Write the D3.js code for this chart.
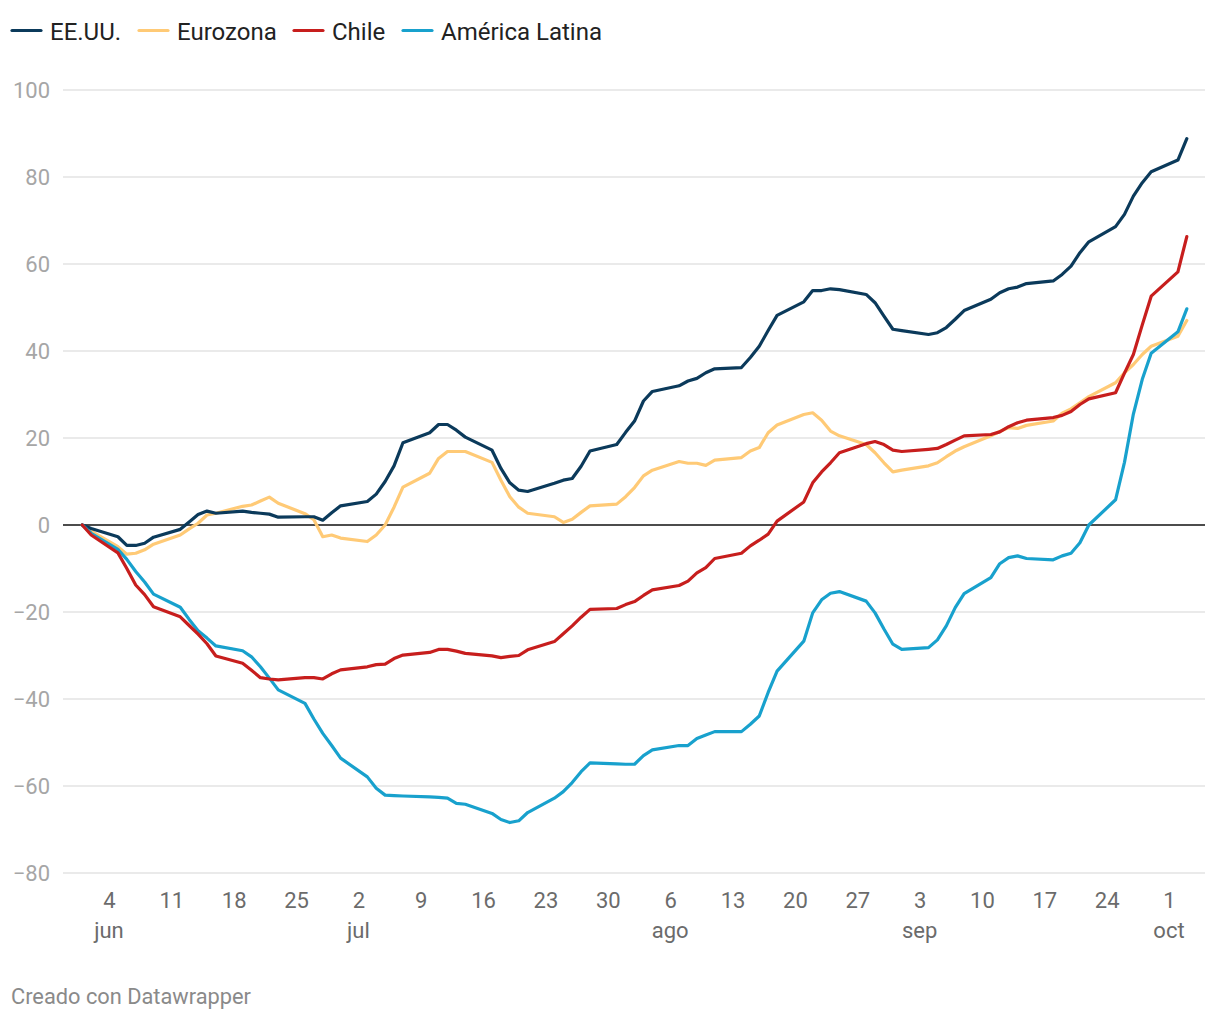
<!DOCTYPE html>
<html>
<head>
<meta charset="utf-8">
<script src="https://cdn.jsdelivr.net/npm/d3@7"></script>
<style>
  html, body { margin: 0; padding: 0; background: #fff; }
  body { width: 1220px; height: 1020px; overflow: hidden; font-family: Roboto, "Noto Sans", sans-serif; }
  svg text { font-family: Roboto, "Noto Sans", sans-serif; }
</style>
</head>
<body>
<svg id="chart" width="1220" height="1020"></svg>
<script>
// ---- Data (trading days, 2023) ----
const dates = [
  "2023-06-01","2023-06-02","2023-06-05","2023-06-06","2023-06-07","2023-06-08","2023-06-09",
  "2023-06-12","2023-06-13","2023-06-14","2023-06-15","2023-06-16",
  "2023-06-19","2023-06-20","2023-06-21","2023-06-22","2023-06-23",
  "2023-06-26","2023-06-27","2023-06-28","2023-06-29","2023-06-30",
  "2023-07-03","2023-07-04","2023-07-05","2023-07-06","2023-07-07",
  "2023-07-10","2023-07-11","2023-07-12","2023-07-13","2023-07-14",
  "2023-07-17","2023-07-18","2023-07-19","2023-07-20","2023-07-21",
  "2023-07-24","2023-07-25","2023-07-26","2023-07-27","2023-07-28",
  "2023-07-31","2023-08-01","2023-08-02","2023-08-03","2023-08-04",
  "2023-08-07","2023-08-08","2023-08-09","2023-08-10","2023-08-11",
  "2023-08-14","2023-08-15","2023-08-16","2023-08-17","2023-08-18",
  "2023-08-21","2023-08-22","2023-08-23","2023-08-24","2023-08-25",
  "2023-08-28","2023-08-29","2023-08-30","2023-08-31","2023-09-01",
  "2023-09-04","2023-09-05","2023-09-06","2023-09-07","2023-09-08",
  "2023-09-11","2023-09-12","2023-09-13","2023-09-14","2023-09-15",
  "2023-09-18","2023-09-19","2023-09-20","2023-09-21","2023-09-22",
  "2023-09-25","2023-09-26","2023-09-27","2023-09-28","2023-09-29",
  "2023-10-02","2023-10-03"
];

const eeuu = [
  0, -0.8, -2.7, -4.7, -4.7, -4.2, -2.8,
  -1.0, 0.7, 2.4, 3.2, 2.7,
  3.2, 2.9, 2.7, 2.5, 1.8,
  1.9, 1.9, 1.1, 2.8, 4.4,
  5.4, 7.1, 10.0, 13.6, 18.9,
  21.2, 23.1, 23.1, 21.8, 20.2,
  17.2, 13.0, 9.7, 8.0, 7.7,
  9.6, 10.3, 10.7, 13.5, 17.0,
  18.5, 21.3, 23.9, 28.5, 30.7,
  32.0, 33.1, 33.7, 35.0, 35.9,
  36.2, 38.5, 41.1, 44.7, 48.2,
  51.3, 53.9, 53.9, 54.3, 54.1,
  53.0, 51.1, 48.0, 45.0, 44.7,
  43.8, 44.2, 45.4, 47.3, 49.3,
  51.9, 53.4, 54.3, 54.7, 55.5,
  56.1, 57.6, 59.5, 62.6, 65.1,
  68.6, 71.4, 75.6, 78.7, 81.2,
  83.9, 88.8
];

const eurozona = [
  0, -1.4, -5.0, -6.7, -6.5, -5.7, -4.4,
  -2.3, -0.9, 0.4, 2.3, 2.7,
  4.3, 4.6, 5.5, 6.4, 5.0,
  2.6, 1.2, -2.7, -2.3, -3.0,
  -3.8, -2.3, 0.0, 4.1, 8.7,
  11.9, 15.3, 16.9, 16.9, 16.9,
  14.4, 10.3, 6.5, 4.1, 2.7,
  1.9, 0.6, 1.3, 2.9, 4.4,
  4.8, 6.5, 8.6, 11.3, 12.6,
  14.6, 14.2, 14.2, 13.7, 14.9,
  15.5, 17.0, 17.8, 21.2, 23.0,
  25.4, 25.8, 24.1, 21.6, 20.5,
  18.5, 16.6, 14.3, 12.2, 12.6,
  13.6, 14.3, 15.7, 17.0, 18.0,
  20.5, 21.5, 22.4, 22.2, 22.9,
  23.9, 25.7, 26.7, 28.1, 29.5,
  32.7, 35.0, 36.9, 39.2, 41.1,
  43.4, 47.0
];

const chile = [
  0, -2.3, -6.4, -10.0, -13.8, -16.0, -18.8,
  -21.1, -23.1, -25.1, -27.3, -30.1,
  -31.8, -33.4, -35.1, -35.4, -35.6,
  -35.1, -35.1, -35.4, -34.2, -33.3,
  -32.6, -32.1, -32.0, -30.7, -29.9,
  -29.3, -28.6, -28.6, -29.0, -29.5,
  -30.1, -30.5, -30.2, -30.0, -28.7,
  -26.8, -25.0, -23.2, -21.2, -19.4,
  -19.2, -18.3, -17.6, -16.2, -14.9,
  -13.9, -12.9, -11.0, -9.8, -7.7,
  -6.5, -4.8, -3.5, -2.1, 0.9,
  5.3, 9.7, 12.2, 14.3, 16.6,
  18.7, 19.2, 18.5, 17.2, 16.9,
  17.4, 17.6, 18.5, 19.5, 20.5,
  20.8, 21.4, 22.6, 23.5, 24.1,
  24.7, 25.2, 26.1, 27.7, 29.0,
  30.4, 34.9, 39.2, 46.0, 52.6,
  58.2, 66.3
];

const americaLatina = [
  0, -1.9, -5.6, -7.9, -10.7, -13.1, -15.9,
  -18.9, -21.7, -24.3, -26.0, -27.8,
  -28.9, -30.3, -32.6, -35.2, -37.9,
  -41.0, -44.6, -47.9, -50.7, -53.6,
  -57.9, -60.5, -62.1, -62.2, -62.3,
  -62.5, -62.6, -62.8, -64.0, -64.2,
  -66.3, -67.7, -68.4, -68.0, -66.1,
  -62.8, -61.3, -59.2, -56.7, -54.7,
  -54.9, -55.0, -55.0, -53.0, -51.7,
  -50.7, -50.7, -49.1, -48.3, -47.5,
  -47.5, -45.8, -43.9, -38.5, -33.6,
  -26.7, -20.2, -17.2, -15.7, -15.3,
  -17.5, -20.2, -23.9, -27.4, -28.6,
  -28.2, -26.4, -23.2, -19.0, -15.8,
  -12.1, -8.9, -7.5, -7.1, -7.7,
  -8.0, -7.1, -6.5, -4.1, 0.0,
  5.8, 14.4, 25.5, 33.5, 39.5,
  44.4, 49.7
];

const seriesNames = ["EE.UU.", "Eurozona", "Chile", "América Latina"];
const seriesColors = ["#0b3a5b", "#ffca76", "#c71e1d", "#18a1cd"];

const xTickDates = [
  "2023-06-04","2023-06-11","2023-06-18","2023-06-25",
  "2023-07-02","2023-07-09","2023-07-16","2023-07-23","2023-07-30",
  "2023-08-06","2023-08-13","2023-08-20","2023-08-27",
  "2023-09-03","2023-09-10","2023-09-17","2023-09-24",
  "2023-10-01"
];
const monthLabels = ["jun", "jul", "ago", "sep", "oct"];
const yTicks = [-80, -60, -40, -20, 0, 20, 40, 60, 80, 100];

// ---- Build ----
const parse = d3.utcParse("%Y-%m-%d");
const dateObjs = dates.map(parse);
const valueSets = [eeuu, eurozona, chile, americaLatina];
const series = seriesNames.map((name, i) => ({
  name, color: seriesColors[i],
  values: dateObjs.map((d, j) => ({ date: d, value: valueSets[i][j] }))
}));

const svg = d3.select("#chart");

const x = d3.scaleUtc()
  .domain([parse("2023-06-04"), parse("2023-10-01")])
  .range([109, 1169]);
const y = d3.scaleLinear().domain([-80, 100]).range([873, 90]);

const gridX0 = 63, gridX1 = 1205;

// gridlines
svg.append("g").selectAll("line")
  .data(yTicks.filter(d => d !== 0))
  .join("line")
  .attr("x1", gridX0).attr("x2", gridX1)
  .attr("y1", d => y(d)).attr("y2", d => y(d))
  .attr("stroke", "#e3e3e3").attr("stroke-width", 1.6);

// y axis labels
const yAxis = d3.axisLeft(y).tickValues(yTicks).tickSize(0).tickPadding(0)
  .tickFormat(d => d < 0 ? "\u2212" + Math.abs(d) : String(d));
const gy = svg.append("g").attr("transform", "translate(50,0)").call(yAxis);
gy.select(".domain").remove();
gy.selectAll("text")
  .attr("fill", "#a6a6a6")
  .style("font-size", "22px")
  .attr("dy", "0.36em");

// x axis labels
const tickObjs = xTickDates.map(parse);
const xAxis = d3.axisBottom(x).tickValues(tickObjs).tickSize(0).tickPadding(0)
  .tickFormat(d3.utcFormat("%-d"));
const gx = svg.append("g").attr("transform", "translate(0,892)").call(xAxis);
gx.select(".domain").remove();
gx.selectAll("text")
  .attr("fill", "#6b6b6b")
  .style("font-size", "22px")
  .attr("y", 0).attr("dy", "0.71em");

// month labels under the first tick of each month
let lastMonth = -1, mi = 0;
const monthTicks = [];
tickObjs.forEach(d => {
  const m = d.getUTCMonth();
  if (m !== lastMonth) { monthTicks.push({ date: d, label: monthLabels[mi++] }); lastMonth = m; }
});
svg.append("g").selectAll("text")
  .data(monthTicks)
  .join("text")
  .attr("x", d => x(d.date))
  .attr("y", 938)
  .attr("text-anchor", "middle")
  .attr("fill", "#6b6b6b")
  .style("font-size", "22px")
  .text(d => d.label);

// zero line
svg.append("line")
  .attr("x1", gridX0).attr("x2", gridX1)
  .attr("y1", y(0)).attr("y2", y(0))
  .attr("stroke", "#111").attr("stroke-width", 1.6);

// lines
const line = d3.line().x(d => x(d.date)).y(d => y(d.value));
const drawOrder = [1, 0, 3, 2];
svg.append("g").selectAll("path")
  .data(drawOrder.map(i => series[i]))
  .join("path")
  .attr("d", d => line(d.values))
  .attr("fill", "none")
  .attr("stroke", d => d.color)
  .attr("stroke-width", 3.2)
  .attr("stroke-linejoin", "round")
  .attr("stroke-linecap", "round");

// legend
const legendX = [11, 138, 293, 402];
const lg = svg.append("g").selectAll("g")
  .data(series)
  .join("g")
  .attr("transform", (d, i) => `translate(${legendX[i]},0)`);
lg.append("line")
  .attr("x1", 1).attr("x2", 30).attr("y1", 30.5).attr("y2", 30.5)
  .attr("stroke", d => d.color).attr("stroke-width", 3.2)
  .attr("stroke-linecap", "round");
lg.append("text")
  .attr("x", 39).attr("y", 40)
  .attr("fill", "#222")
  .style("font-size", "24px")
  .text(d => d.name);

// footer
svg.append("text")
  .attr("x", 11).attr("y", 1004)
  .attr("fill", "#8a8a8a")
  .style("font-size", "21.8px")
  .text("Creado con Datawrapper");
</script>
</body>
</html>
